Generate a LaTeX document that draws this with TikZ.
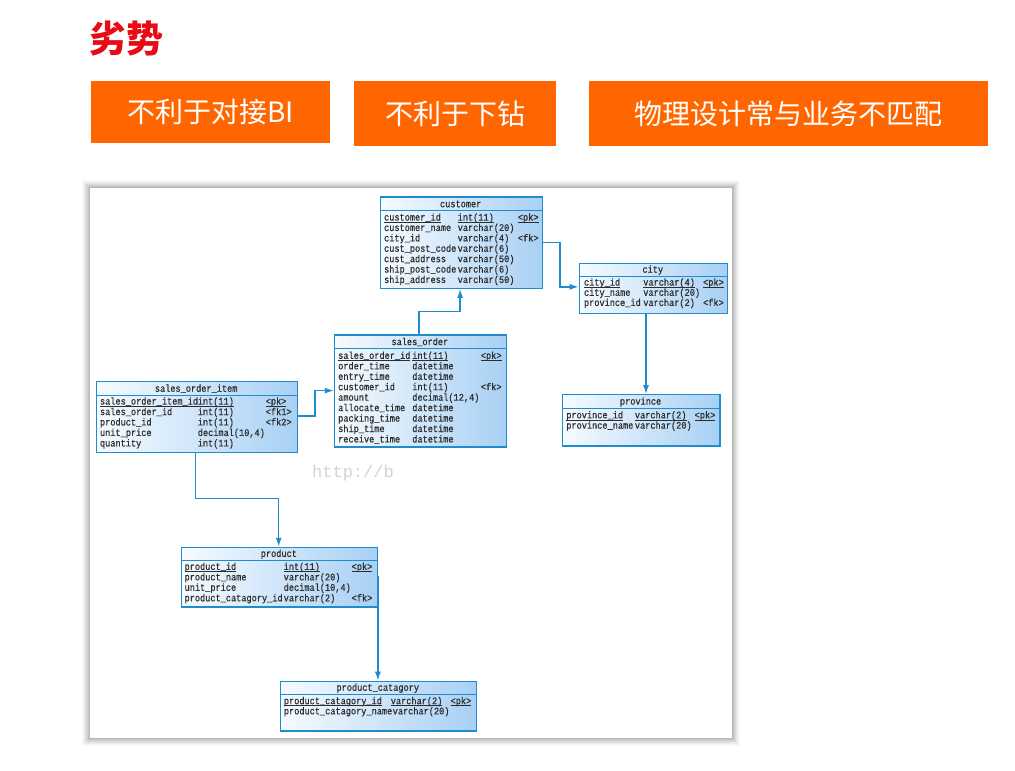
\documentclass[tikz,border=0pt]{standalone}
\usepackage{fontspec}
\setmainfont{Liberation Serif}
\newfontfamily\cjk{Noto Sans CJK SC}
\newfontfamily\mono[FakeStretch=0.86,FakeBold=0.6]{Liberation Mono}
\newfontfamily\wmfont{Liberation Mono}
\usetikzlibrary{arrows.meta}
\definecolor{orangebox}{RGB}{255,102,0}
\definecolor{titlered}{RGB}{232,10,20}
\definecolor{erblue}{RGB}{30,140,205}
\definecolor{tblL}{RGB}{246,251,255}
\definecolor{tblR}{RGB}{168,208,244}
\definecolor{celltext}{RGB}{45,45,45}
\definecolor{wmgray}{RGB}{212,212,212}
\newcommand\ertable[7]{%
  \node[tbl, minimum width={#4-#2}, minimum height={#5-#3}, anchor=north west] (#1) at (#2,#3) {};
  \draw[sep] (#1.west |- 0,#6) -- (#1.east |- 0,#6);
  \node[ttl] (#1-title) at ({(#2+#4)/2}, {(#3+#6)/2+0.5}) {#7};
}
\newcommand\ercell[3]{\node[cell] at (#1,#2) {#3};}
\newcommand\ulk[1]{\underline{\smash{#1}}}
\begin{document}
\begin{tikzpicture}[x=1pt,y=-1pt,
  tbl/.style={draw=erblue, line width=1.2pt, left color=tblL, right color=tblR, inner sep=0pt},
  sep/.style={draw=erblue, line width=0.9pt},
  ttl/.style={font=\mono\fontsize{10}{10}\selectfont, text=celltext, inner sep=0pt},
  cell/.style={font=\mono\fontsize{10}{10}\selectfont, text=celltext, inner sep=0pt, anchor=west, text height=6.5pt, text depth=2pt},
  fk/.style={draw=erblue, line width=1.4pt, -{Latex[length=9pt,width=6pt]}},
  badbox/.style={fill=orangebox, inner sep=0pt, anchor=north west, font=\cjk\fontsize{28}{30}\selectfont, text=white},
]
\useasboundingbox (0,0) rectangle (1015,771);
\fill[white] (0,0) rectangle (1015,771);

% header
\node[font=\cjk\bfseries\fontsize{37}{38}\selectfont, text=titlered, anchor=west, inner sep=0pt] (title) at (89,38.5) {劣势};
\node[badbox, minimum width=239, minimum height=62] (b1) at (91,81) {不利于对接BI};
\node[badbox, minimum width=202, minimum height=65] (b2) at (354,81) {不利于下钻};
\node[badbox, minimum width=399, minimum height=65] (b3) at (589,81) {物理设计常与业务不匹配};

% screenshot panel with soft shadow
\foreach \s/\o in {8/0.02,7/0.025,6/0.03,5/0.035,4/0.04,3/0.045,2/0.05,1/0.06}{
  \fill[black, opacity=\o] (90-\s,188-\s) rectangle (732+\s,738+\s);
}
\node[fill=white, inner sep=0pt, minimum width=642, minimum height=550, anchor=north west] (panel) at (90,188) {};

% watermark
\node[font=\wmfont\fontsize{17}{17}\selectfont, text=wmgray, inner sep=0pt] (wm) at (353,473) {http://b};

% customer
\ertable{customer}{379.7}{196.4}{541.7}{287.7}{210.5}{customer}
\ercell{383.9}{218.3}{\ulk{customer\_id}}
\ercell{457.5}{218.3}{\ulk{int(11)}}
\ercell{517.7}{218.3}{\ulk{<pk>}}
\ercell{383.9}{228.7}{customer\_name}
\ercell{457.5}{228.7}{varchar(20)}
\ercell{383.9}{239.1}{city\_id}
\ercell{457.5}{239.1}{varchar(4)}
\ercell{517.7}{239.1}{<fk>}
\ercell{383.9}{249.5}{cust\_post\_code}
\ercell{457.5}{249.5}{varchar(6)}
\ercell{383.9}{259.9}{cust\_address}
\ercell{457.5}{259.9}{varchar(50)}
\ercell{383.9}{270.3}{ship\_post\_code}
\ercell{457.5}{270.3}{varchar(6)}
\ercell{383.9}{280.7}{ship\_address}
\ercell{457.5}{280.7}{varchar(50)}

% city
\ertable{city}{578.7}{262.5}{726.9}{312.5}{276.7}{city}
\ercell{583.8}{283.3}{\ulk{city\_id}}
\ercell{643.1}{283.3}{\ulk{varchar(4)}}
\ercell{702.9}{283.3}{\ulk{<pk>}}
\ercell{583.8}{293.5}{city\_name}
\ercell{643.1}{293.5}{varchar(20)}
\ercell{583.8}{303.7}{province\_id}
\ercell{643.1}{303.7}{varchar(2)}
\ercell{702.9}{303.7}{<fk>}

% province
\ertable{province}{561.9}{394.2}{719.3}{445.3}{408.8}{province}
\ercell{566.1}{416.1}{\ulk{province\_id}}
\ercell{634.7}{416.1}{\ulk{varchar(2)}}
\ercell{694.5}{416.1}{\ulk{<pk>}}
\ercell{566.1}{426.4}{province\_name}
\ercell{634.7}{426.4}{varchar(20)}

% sales_order
\ertable{sorder}{333.8}{334.4}{505.9}{446.4}{348.6}{sales\_order}
\ercell{338}{356.6}{\ulk{sales\_order\_id}}
\ercell{412.1}{356.6}{\ulk{int(11)}}
\ercell{480.7}{356.6}{\ulk{<pk>}}
\ercell{338}{367.05}{order\_time}
\ercell{412.1}{367.05}{datetime}
\ercell{338}{377.5}{entry\_time}
\ercell{412.1}{377.5}{datetime}
\ercell{338}{387.95}{customer\_id}
\ercell{412.1}{387.95}{int(11)}
\ercell{480.7}{387.95}{<fk>}
\ercell{338}{398.4}{amount}
\ercell{412.1}{398.4}{decimal(12,4)}
\ercell{338}{408.85}{allocate\_time}
\ercell{412.1}{408.85}{datetime}
\ercell{338}{419.3}{packing\_time}
\ercell{412.1}{419.3}{datetime}
\ercell{338}{429.75}{ship\_time}
\ercell{412.1}{429.75}{datetime}
\ercell{338}{440.2}{receive\_time}
\ercell{412.1}{440.2}{datetime}

% sales_order_item
\ertable{item}{95.6}{381}{296.7}{451.5}{395.3}{sales\_order\_item}
\ercell{99.8}{402.3}{\ulk{sales\_order\_item\_id}}
\ercell{197.6}{402.3}{\ulk{int(11)}}
\ercell{265.6}{402.3}{\ulk{<pk>}}
\ercell{99.8}{412.8}{sales\_order\_id}
\ercell{197.6}{412.8}{int(11)}
\ercell{265.6}{412.8}{<fk1>}
\ercell{99.8}{423.2}{product\_id}
\ercell{197.6}{423.2}{int(11)}
\ercell{265.6}{423.2}{<fk2>}
\ercell{99.8}{433.7}{unit\_price}
\ercell{197.6}{433.7}{decimal(10,4)}
\ercell{99.8}{444.2}{quantity}
\ercell{197.6}{444.2}{int(11)}

% product
\ertable{product}{181}{546.8}{376.7}{606.3}{560.7}{product}
\ercell{184.4}{567.6}{\ulk{product\_id}}
\ercell{283.5}{567.6}{\ulk{int(11)}}
\ercell{351.5}{567.6}{\ulk{<pk>}}
\ercell{184.4}{578.1}{product\_name}
\ercell{283.5}{578.1}{varchar(20)}
\ercell{184.4}{588.5}{unit\_price}
\ercell{283.5}{588.5}{decimal(10,4)}
\ercell{184.4}{599}{product\_catagory\_id}
\ercell{283.5}{599}{varchar(2)}
\ercell{351.5}{599}{<fk>}

% product_catagory
\ertable{catagory}{280}{680.7}{475.6}{730.4}{694.6}{product\_catagory}
\ercell{283.7}{701.9}{\ulk{product\_catagory\_id}}
\ercell{390.6}{701.9}{\ulk{varchar(2)}}
\ercell{450.4}{701.9}{\ulk{<pk>}}
\ercell{283.7}{712.1}{product\_catagory\_name}
\ercell{392.5}{712.1}{varchar(20)}

% connectors
\draw[fk] (customer.east |- 0,242.5) -- (559.8,242.5) |- (city.west |- 0,286.9);
\draw[fk] (418.8,0 |- sorder.north) |- (460.1,311.4) -- (460.1,0 |- customer.south);
\draw[fk] (item.east |- 0,416.1) -- (314.8,416.1) |- (sorder.west |- 0,390.6);
\draw[fk] (195.7,0 |- item.south) |- (278.7,498.6) -- (278.7,0 |- product.north);
\draw[fk] (product.east |- 0,576) -- (product.east |- catagory.north);
\draw[fk] (646,0 |- city.south) -- (646,0 |- province.north);
\end{tikzpicture}
\end{document}
